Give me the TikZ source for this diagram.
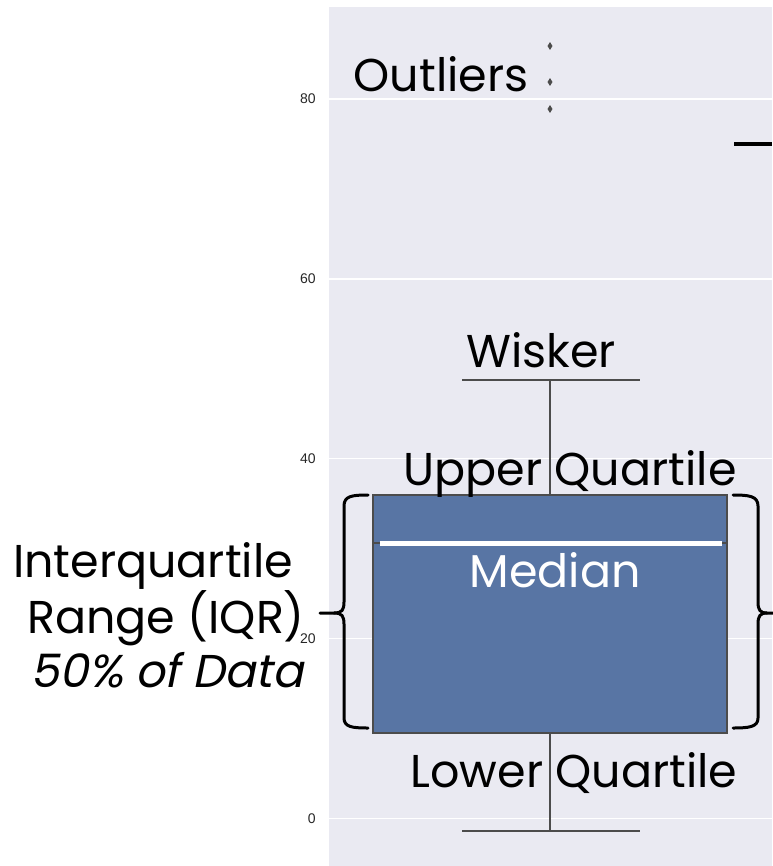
\documentclass[tikz,border=0pt]{standalone}
\usepackage{fontspec}
\setmainfont{Poppins}
\newfontfamily\obliquefont[FakeSlant=0.2]{Poppins}
\newfontfamily\tickfont{Liberation Sans}
\usetikzlibrary{shapes.geometric}

\definecolor{plotbg}{HTML}{EAEAF2}
\definecolor{boxblue}{HTML}{5875A4}
\definecolor{linegray}{HTML}{4C4C4C}

\tikzset{
  callout/.style={font=\fontsize{46}{46}\selectfont, anchor=base, inner sep=0pt},
  ticklabel/.style={font=\tickfont\fontsize{14}{14}\selectfont, anchor=east, inner sep=0pt, text=black!85},
  outlier/.style={diamond, fill=linegray, inner sep=0pt, minimum width=6pt, minimum height=9pt},
  brace/.style={line width=3pt, black, line cap=round, line join=round}
}

\begin{document}
\begin{tikzpicture}[x=1pt, y=-1pt, line width=2.5pt]
    \useasboundingbox (0,0) rectangle (772,866);

    % draw plot area and grid
    \fill[plotbg] (329,7) rectangle (772,866);
    \foreach \v in {0,20,...,80} {
        \draw[white, line width=1.5pt] (329, 818.3-8.99*\v) -- (772, 818.3-8.99*\v);
        \node[ticklabel] (tick\v) at (317, 818.3-8.99*\v) {\v};
    }

    % draw whiskers
    \draw[linegray] (550,495) -- (550,380);
    \draw[linegray] (462,380) -- (640,380);
    \draw[linegray] (550,733) -- (550,831);
    \draw[linegray] (462,831) -- (640,831);

    % draw box and median
    \draw[linegray, fill=boxblue] (373,495) rectangle (727,733);
    \draw[linegray] (373,543) -- (727,543);
    \draw[white, line width=5pt] (380,543) -- (722,543);

    % draw outliers
    \node[outlier] (out1) at (550,46) {};
    \node[outlier] (out2) at (550,82) {};
    \node[outlier] (out3) at (550,109) {};

    % draw line at top right
    \draw[black, line width=4pt] (734,144.5) -- (772,144.5);

    % draw braces
    \draw[brace] (368,495) .. controls (352,495) and (344,496) .. (344,506) -- (344,602)
        .. controls (344,610) and (342,613) .. (334,613) -- (320,613);
    \draw[brace] (334,613) .. controls (342,613) and (344,616) .. (344,624) -- (344,718)
        .. controls (344,727) and (352,728) .. (368,728);
    \draw[brace] (733,495) .. controls (749,495) and (758,496) .. (758,506) -- (758,602)
        .. controls (758,610) and (760,613) .. (767,613) -- (774,613);
    \draw[brace] (767,613) .. controls (760,613) and (758,616) .. (758,624) -- (758,718)
        .. controls (758,727) and (749,728) .. (733,728);

    % draw labels
    \node[callout] (outliers) at (441,92) {Outliers};
    \node[callout] (wisker) at (541,367) {Wisker};
    \node[callout] (upper) at (570,485) {Upper Quartile};
    \node[callout, text=white] (median) at (555,587) {Median};
    \node[callout] (lower) at (574,787) {Lower Quartile};
    \node[callout] (iqr1) at (153,577) {Interquartile};
    \node[callout] (iqr2) at (166,633) {Range (IQR)};
    \node[callout, font=\obliquefont\fontsize{46}{46}\selectfont] (iqr3) at (167,687) {50\% of Data};
\end{tikzpicture}
\end{document}
